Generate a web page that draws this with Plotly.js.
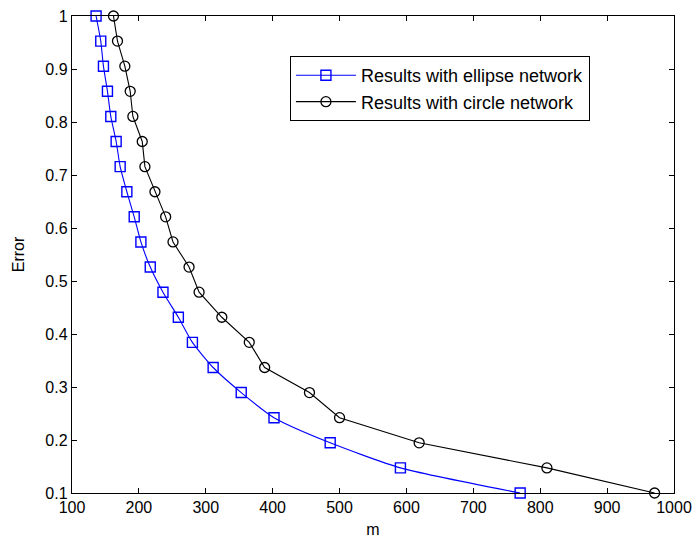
<!DOCTYPE html>
<html>
<head>
<meta charset="utf-8">
<script src="https://cdn.plot.ly/plotly-3.0.1.min.js"></script>
<style>html,body{margin:0;padding:0;background:#fff;}#chart{width:696px;height:539px;}</style>
</head>
<body>
<div id="chart"></div>
<script>
// Error levels (shared by both series)
const errorLevels = [1, 0.9526, 0.9053, 0.8579, 0.8105, 0.7632, 0.7158, 0.6684, 0.6211, 0.5737,
                     0.5263, 0.4789, 0.4316, 0.3842, 0.3368, 0.2895, 0.2421, 0.1947, 0.1474, 0.1];
// m values for ellipse network
const mEllipse = [136, 143, 147, 153, 158, 166, 172, 182, 193, 203,
                  217, 236, 259, 280, 311, 353, 402, 486, 591, 770];
// m values for circle network
const mCircle = [162, 168, 179, 187, 191, 205, 209, 224, 240, 251,
                 275, 290, 324, 365, 388, 455, 500, 619, 810, 971];
const seriesNames = ['Results with ellipse network', 'Results with circle network'];
const xTicks = [100, 200, 300, 400, 500, 600, 700, 800, 900, 1000];
const yTicks = [0.1, 0.2, 0.3, 0.4, 0.5, 0.6, 0.7, 0.8, 0.9, 1];

const font = 'Liberation Sans, Arial, sans-serif';
const traces = [
  {
    x: mEllipse, y: errorLevels, name: seriesNames[0], type: 'scatter', mode: 'lines+markers',
    line: {color: '#0000ff', width: 1.1, shape: 'spline', smoothing: 0.6},
    marker: {symbol: 'square-open', size: 10, color: '#0000ff', line: {width: 1.4, color: '#0000ff'}},
    cliponaxis: false
  },
  {
    x: mCircle, y: errorLevels, name: seriesNames[1], type: 'scatter', mode: 'lines+markers',
    line: {color: '#000000', width: 1.1},
    marker: {symbol: 'circle-open', size: 10, color: '#000000', line: {width: 1.3, color: '#000000'}},
    cliponaxis: false
  }
];
const axisCommon = {
  showline: true, linecolor: '#000', linewidth: 1.2, mirror: 'ticks',
  ticks: 'inside', ticklen: 5, tickwidth: 1, tickcolor: '#000',
  showgrid: false, zeroline: false,
  tickfont: {family: font, size: 16, color: '#000'}
};
const layout = {
  width: 696, height: 539,
  margin: {l: 72, r: 22, t: 16, b: 46},
  paper_bgcolor: '#fff', plot_bgcolor: '#fff',
  showlegend: true,
  xaxis: Object.assign({}, axisCommon, {
    range: [100, 1000], tickvals: xTicks, ticktext: xTicks.map(String),
    title: {text: 'm', font: {family: font, size: 16, color: '#000'}, standoff: 8}
  }),
  yaxis: Object.assign({}, axisCommon, {
    range: [0.1, 1], tickvals: yTicks, ticktext: yTicks.map(String),
    title: {text: 'Error', font: {family: font, size: 16, color: '#000'}, standoff: 16}
  }),
  legend: {
    x: 0.362, y: 0.916, xanchor: 'left', yanchor: 'top',
    bgcolor: '#fff', bordercolor: '#000', borderwidth: 1,
    font: {family: font, size: 18, color: '#000'},
    itemwidth: 60, tracegroupgap: 0
  }
};
Plotly.newPlot('chart', traces, layout, {displayModeBar: false, staticPlot: true});
</script>
</body>
</html>
